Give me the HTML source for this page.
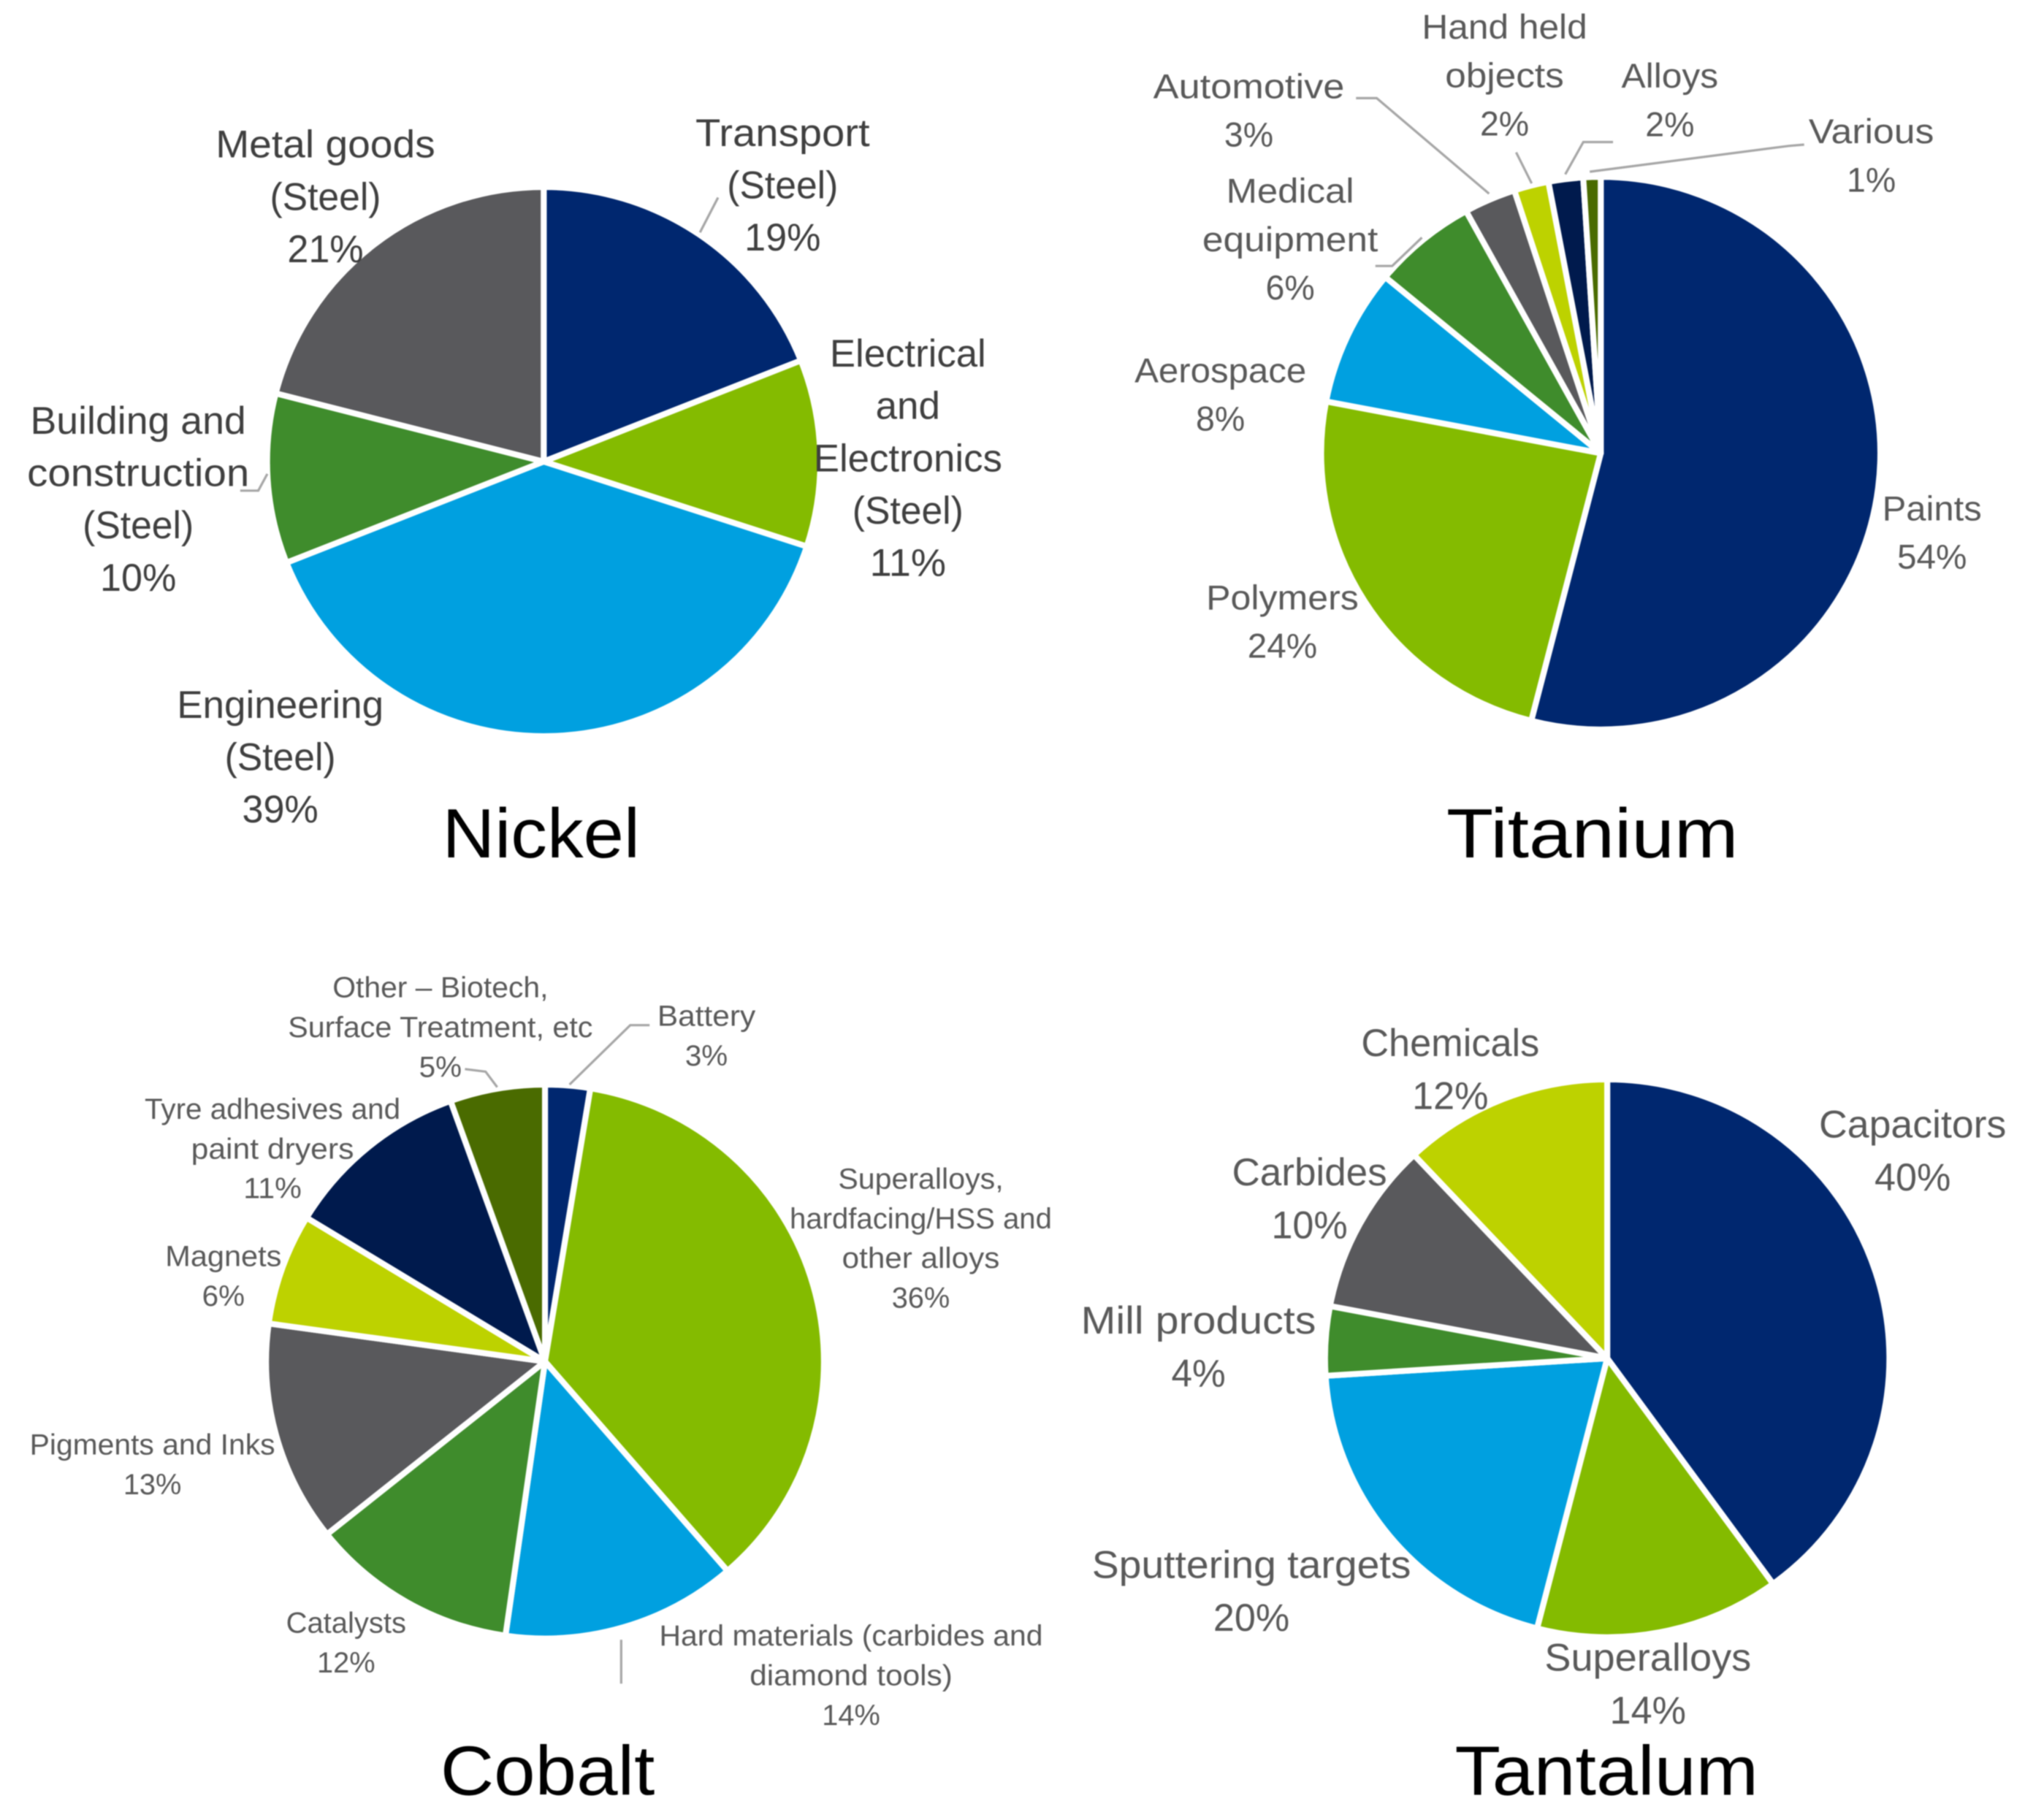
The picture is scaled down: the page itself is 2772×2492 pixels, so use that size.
<!DOCTYPE html>
<html lang="en">
<head>
<meta charset="utf-8">
<title>End uses of Nickel, Titanium, Cobalt and Tantalum</title>
<style>
  html, body { margin: 0; padding: 0; background: #ffffff; }
  #figure { display: block; width: 2772px; height: 2492px; filter: blur(0.9px); }
  text { font-family: "Liberation Sans", sans-serif; text-anchor: middle; }
</style>
</head>
<body>
<svg id="figure" xmlns="http://www.w3.org/2000/svg" width="2772" height="2492" viewBox="0 0 1568 1409.6">
  <rect x="0" y="0" width="1568" height="1409.6" fill="#ffffff"/>
  <g id="nickel"></g>
  <g id="titanium"></g>
  <g id="cobalt"></g>
  <g id="tantalum"></g>
</svg>
<script>
// ---- Data ----
const nickelCategories = ['Transport|(Steel)', 'Electrical|and|Electronics|(Steel)', 'Engineering|(Steel)', 'Building and|construction|(Steel)', 'Metal goods|(Steel)'];
const nickelValues = [19, 11, 39, 10, 21];

const titaniumCategories = ['Paints', 'Polymers', 'Aerospace', 'Medical|equipment', 'Automotive', 'Hand held|objects', 'Alloys', 'Various'];
const titaniumValues = [54, 24, 8, 6, 3, 2, 2, 1];

const cobaltCategories = ['Battery', 'Superalloys,|hardfacing/HSS and|other alloys', 'Hard materials (carbides and|diamond tools)', 'Catalysts', 'Pigments and Inks', 'Magnets', 'Tyre adhesives and|paint dryers', 'Other – Biotech,|Surface Treatment, etc'];
const cobaltValues = [2.6, 36, 13.6, 12, 12.9, 6.49, 10.8, 5.49];

const tantalumCategories = ['Capacitors', 'Superalloys', 'Sputtering targets', 'Mill products', 'Carbides', 'Chemicals'];
const tantalumValues = [40, 14, 20, 4, 10, 12];

// ---- Layout and style (not data) ----
const NAVY = '#00276f', LEAF = '#84bb00', SKY = '#00a0e0', FOREST = '#3f8c2c',
      GREY = '#59595c', LIME = '#bdd200', INK = '#001a4d', OLIVE = '#4a6b00';

const charts = [
  {
    id: 'nickel', title: 'Nickel', titleX: 419, titleY: 664, titleWidth: 153,
    categories: nickelCategories, values: nickelValues,
    colors: [NAVY, LEAF, SKY, FOREST, GREY],
    frame: { cx: 421, cy: 357.5, rx: 214.2, ry: 212.7 },
    fontSize: 30, lineGap: 40.5, textFill: '#3f3f3f', percentWidth: 59,
    placement: [
      { x: 606, y: 113, w: [135, 86] },
      { x: 703, y: 284, w: [121, 50, 146, 86] },
      { x: 217, y: 556, w: [160, 86] },
      { x: 107, y: 336, w: [167, 172, 86] },
      { x: 252, y: 122, w: [170, 86] }
    ],
    leaders: ['542,180 556,153', '186,380 200,380 207,367']
  },
  {
    id: 'titanium', title: 'Titanium', titleX: 1233, titleY: 664, titleWidth: 226,
    categories: titaniumCategories, values: titaniumValues,
    colors: [NAVY, LEAF, SKY, FOREST, GREY, LIME, INK, OLIVE],
    frame: { cx: 1239.5, cy: 351, rx: 216.5, ry: 214 },
    fontSize: 27, lineGap: 37.5, textFill: '#595959', percentWidth: 38,
    placement: [
      { x: 1496, y: 403, w: [77], pw: 54 },
      { x: 993, y: 472, w: [118], pw: 54 },
      { x: 945, y: 296, w: [133] },
      { x: 999, y: 157, w: [99, 136] },
      { x: 967, y: 76, w: [148] },
      { x: 1165, y: 30, w: [128, 92] },
      { x: 1293, y: 68, w: [75] },
      { x: 1449, y: 111, w: [97] }
    ],
    leaders: ['1050,76 1066,76 1153,150', '1174,118 1186,142', '1212,135 1226,110 1249,110', '1231,133 1385,113 1397,112', '1065,206 1078,206 1101,184']
  },
  {
    id: 'cobalt', title: 'Cobalt', titleX: 424, titleY: 1390, titleWidth: 166,
    categories: cobaltCategories, values: cobaltValues,
    colors: [NAVY, LEAF, SKY, FOREST, GREY, LIME, INK, OLIVE],
    frame: { cx: 422, cy: 1054.5, rx: 216, ry: 214.5 },
    fontSize: 22.5, lineGap: 30.8, textFill: '#595959', percentWidth: 45,
    placement: [
      { x: 547, y: 794.5, w: [76], pw: 33 },
      { x: 713, y: 920.5, w: [128, 203, 122] },
      { x: 659, y: 1274.5, w: [297, 157] },
      { x: 268, y: 1264.5, w: [93] },
      { x: 118, y: 1126.5, w: [190] },
      { x: 173, y: 980.5, w: [90], pw: 33 },
      { x: 211, y: 866.5, w: [198, 126] },
      { x: 341, y: 772.5, w: [167, 236], pw: 33 }
    ],
    leaders: ['441,840 488,794 503,794', '481,1270 481,1304', '360,828 376,830 385,842']
  },
  {
    id: 'tantalum', title: 'Tantalum', titleX: 1244, titleY: 1390, titleWidth: 235,
    categories: tantalumCategories, values: tantalumValues,
    colors: [NAVY, LEAF, SKY, FOREST, GREY, LIME],
    frame: { cx: 1244.5, cy: 1052, rx: 218.5, ry: 216 },
    fontSize: 30, lineGap: 41, textFill: '#595959', percentWidth: 59,
    placement: [
      { x: 1481, y: 881, w: [145] },
      { x: 1276, y: 1294, w: [160] },
      { x: 969, y: 1222, w: [247] },
      { x: 928, y: 1033, w: [182], pw: 42 },
      { x: 1014, y: 918, w: [120] },
      { x: 1123, y: 818, w: [138] }
    ],
    leaders: []
  }
];

const SVG_NS = 'http://www.w3.org/2000/svg';

function slug(s) {
  return s.toLowerCase().replace(/[^a-z0-9]+/g, '-').replace(/^-|-$/g, '');
}

// Angle axis: cumulative share -> radians clockwise from 12 o'clock
function angleScale(share, total) {
  return (share / total) * 2 * Math.PI;
}

function pointAt(frame, angle) {
  return [frame.cx + frame.rx * Math.sin(angle), frame.cy - frame.ry * Math.cos(angle)];
}

function addText(parent, str, x, y, size, fill, width, name) {
  const t = document.createElementNS(SVG_NS, 'text');
  t.setAttribute('x', x);
  t.setAttribute('y', y);
  t.setAttribute('font-size', size);
  t.setAttribute('fill', fill);
  if (width) {
    t.setAttribute('textLength', width);
    t.setAttribute('lengthAdjust', 'spacingAndGlyphs');
  }
  
  
  t.textContent = str;
  parent.appendChild(t);
}

function drawChart(chart) {
  const root = document.getElementById(chart.id);
  const total = chart.values.reduce(function (a, b) { return a + b; }, 0);
  let running = 0;

  chart.values.forEach(function (value, i) {
    const a0 = angleScale(running, total);
    running += value;
    const a1 = angleScale(running, total);
    const p0 = pointAt(chart.frame, a0);
    const p1 = pointAt(chart.frame, a1);
    const large = (a1 - a0) > Math.PI ? 1 : 0;
    const path = document.createElementNS(SVG_NS, 'path');
    path.setAttribute('d', 'M' + chart.frame.cx + ' ' + chart.frame.cy +
      ' L' + p0[0].toFixed(2) + ' ' + p0[1].toFixed(2) +
      ' A' + chart.frame.rx + ' ' + chart.frame.ry + ' 0 ' + large + ' 1 ' +
      p1[0].toFixed(2) + ' ' + p1[1].toFixed(2) + ' Z');
    path.setAttribute('fill', chart.colors[i]);
    path.setAttribute('stroke', '#ffffff');
    path.setAttribute('stroke-width', '4.6');
    path.setAttribute('stroke-linejoin', 'round');
    
    
    root.appendChild(path);
  });

  chart.leaders.forEach(function (pts, i) {
    const line = document.createElementNS(SVG_NS, 'polyline');
    line.setAttribute('points', pts);
    line.setAttribute('fill', 'none');
    line.setAttribute('stroke', '#a6a6a6');
    line.setAttribute('stroke-width', '1.8');
    
    
    root.appendChild(line);
  });

  chart.categories.forEach(function (cat, i) {
    const spot = chart.placement[i];
    const lines = cat.split('|');
    const base = slug(lines[0]);
    lines.forEach(function (line, j) {
      addText(root, line, spot.x, spot.y + j * chart.lineGap, chart.fontSize, chart.textFill, spot.w[j],
        chart.id + '-label-' + base + '-line-' + (j + 1));
    });
    addText(root, Math.round(chart.values[i]) + '%', spot.x, spot.y + lines.length * chart.lineGap,
      chart.fontSize, chart.textFill, spot.pw || chart.percentWidth, chart.id + '-percent-' + base);
  });

  addText(root, chart.title, chart.titleX, chart.titleY, 54, '#000000', chart.titleWidth, chart.id + '-title');
}

charts.forEach(drawChart);
</script>
</body>
</html>
